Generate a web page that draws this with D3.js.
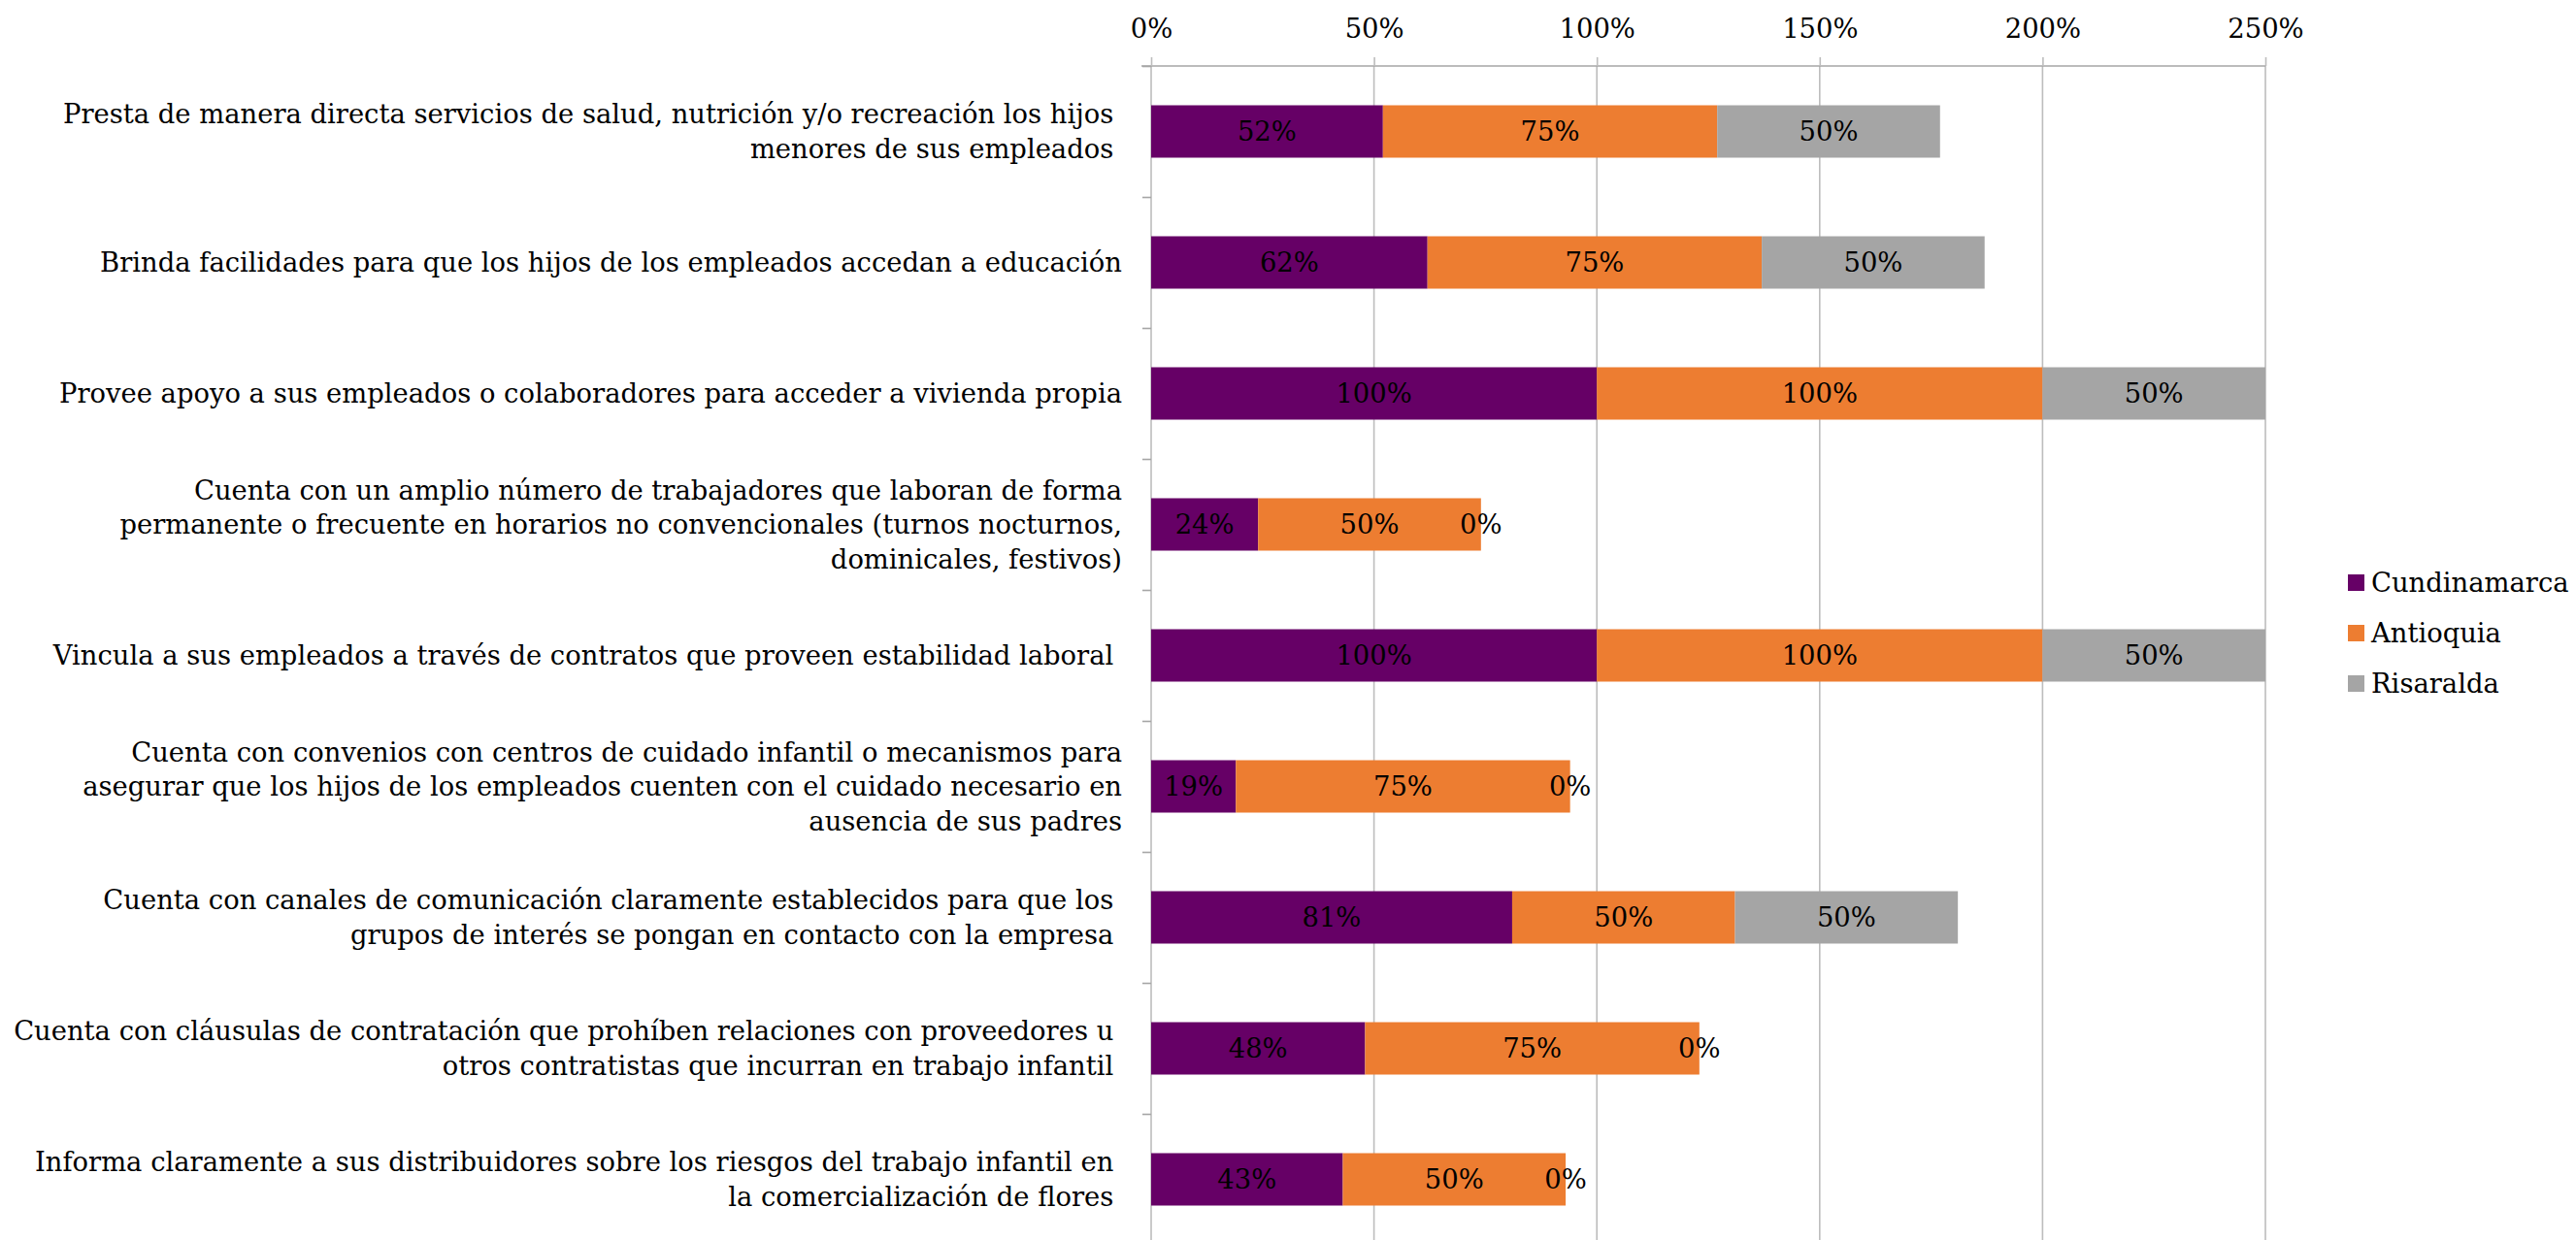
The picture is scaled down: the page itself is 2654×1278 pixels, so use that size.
<!DOCTYPE html>
<html><head><meta charset="utf-8">
<script src="https://cdn.jsdelivr.net/npm/d3@7/dist/d3.min.js"></script>
<style>
body{margin:0;background:#fff}
svg{display:block}
text{font-family:"DejaVu Serif","Liberation Serif",serif;fill:#000;white-space:pre}
</style>
</head><body>
<svg id="chart" width="2654" height="1278"></svg>
<script>
const categories = [
  "Presta de manera directa servicios de salud, nutrición y/o recreación los hijos \nmenores de sus empleados ",
  "Brinda facilidades para que los hijos de los empleados accedan a educación",
  "Provee apoyo a sus empleados o colaboradores para acceder a vivienda propia",
  "Cuenta con un amplio número de trabajadores que laboran de forma\npermanente o frecuente en horarios no convencionales (turnos nocturnos,\ndominicales, festivos)",
  "Vincula a sus empleados a través de contratos que proveen estabilidad laboral ",
  "Cuenta con convenios con centros de cuidado infantil o mecanismos para\nasegurar que los hijos de los empleados cuenten con el cuidado necesario en\nausencia de sus padres",
  "Cuenta con canales de comunicación claramente establecidos para que los \ngrupos de interés se pongan en contacto con la empresa ",
  "Cuenta con cláusulas de contratación que prohíben relaciones con proveedores u \notros contratistas que incurran en trabajo infantil ",
  "Informa claramente a sus distribuidores sobre los riesgos del trabajo infantil en \nla comercialización de flores "
];
const seriesNames = ["Cundinamarca", "Antioquia", "Risaralda"];
const cundinamarca = [52, 62, 100, 24, 100, 19, 81, 48, 43];
const antioquia    = [75, 75, 100, 50, 100, 75, 50, 75, 50];
const risaralda    = [50, 50, 50, 0, 50, 0, 50, 0, 0];
const seriesColors = ["#660066", "#ED7D31", "#A5A5A5"];
const xTickValues = [0, 50, 100, 150, 200, 250];

const FONT = 27.4;
const svg = d3.select("#chart");
const top0 = 68, step = 135, n = categories.length;
const x = d3.scaleLinear().domain([0, 250]).range([1186, 2334]);
const y = d3.scaleBand().domain(d3.range(n)).range([top0, top0 + step * n])
  .paddingInner(0.6).paddingOuter(0.3);
const yBound = d3.scaleLinear().domain([0, n]).range([top0, top0 + step * n]);

const rows = categories.map((c, i) => ({
  i, vals: [cundinamarca[i], antioquia[i], risaralda[i]]
}));
const stack = d3.stack().keys([0, 1, 2]).value((d, k) => d.vals[k]);
const layers = stack(rows);

// gridlines
svg.append("g").selectAll("line").data(xTickValues).join("line")
  .attr("x1", d => x(d)).attr("x2", d => x(d))
  .attr("y1", top0).attr("y2", 1278)
  .attr("stroke", "#BDBDBD").attr("stroke-width", 1.6);

// top axis
const xAxis = svg.append("g").attr("transform", `translate(0,${top0})`)
  .call(d3.axisTop(x).tickValues(xTickValues).tickFormat(d => d + "%").tickSize(9).tickSizeOuter(0));
xAxis.select(".domain").attr("stroke", "#A6A6A6").attr("stroke-width", 1.6)
  .attr("d", `M1176,0H${x(250)}`);
xAxis.selectAll(".tick line").attr("stroke", "#BDBDBD").attr("stroke-width", 1.6);
xAxis.selectAll(".tick text").attr("font-size", FONT).attr("fill", "#000")
  .attr("font-family", null).attr("y", -29);

// left category axis (ticks at boundaries)
const yAxis = svg.append("g").attr("transform", `translate(${x(0)},0)`)
  .call(d3.axisLeft(yBound).tickValues(d3.range(0, n + 1)).tickFormat("").tickSize(9).tickSizeOuter(0));
yAxis.select(".domain").remove();
yAxis.selectAll(".tick line").attr("stroke", "#A6A6A6").attr("stroke-width", 1.6);

// bars
const g = svg.append("g");
layers.forEach((layer, k) => {
  g.append("g").selectAll("rect").data(layer).join("rect")
    .attr("x", d => x(d[0])).attr("width", d => x(d[1]) - x(d[0]))
    .attr("y", (d, i) => y(i)).attr("height", y.bandwidth())
    .attr("fill", seriesColors[k]);
});
// data labels
layers.forEach((layer, k) => {
  g.append("g").selectAll("text").data(layer).join("text")
    .attr("x", d => x((d[0] + d[1]) / 2))
    .attr("y", (d, i) => y(i) + y.bandwidth() / 2)
    .attr("dy", "0.35em").attr("text-anchor", "middle")
    .attr("font-size", FONT)
    .text(d => (d[1] - d[0]) + "%");
});

// category labels
const lineH = 35.5;
const lab = svg.append("g");
categories.forEach((c, i) => {
  const lines = c.split("\n");
  const cy = y(i) + y.bandwidth() / 2;
  const t = lab.append("text").attr("text-anchor", "end").attr("font-size", FONT);
  lines.forEach((ln, j) => {
    t.append("tspan").attr("x", 1156)
      .attr("y", cy + (j - (lines.length - 1) / 2) * lineH)
      .attr("dy", "0.35em").text(ln);
  });
});

// legend
const leg = svg.append("g");
seriesNames.forEach((s, k) => {
  const ly = 600 + k * 52;
  leg.append("rect").attr("x", 2419).attr("y", ly - 8).attr("width", 17).attr("height", 17)
    .attr("fill", seriesColors[k]);
  leg.append("text").attr("x", 2443).attr("y", ly).attr("dy", "0.35em")
    .attr("font-size", FONT).text(s);
});
</script>
</body></html>
